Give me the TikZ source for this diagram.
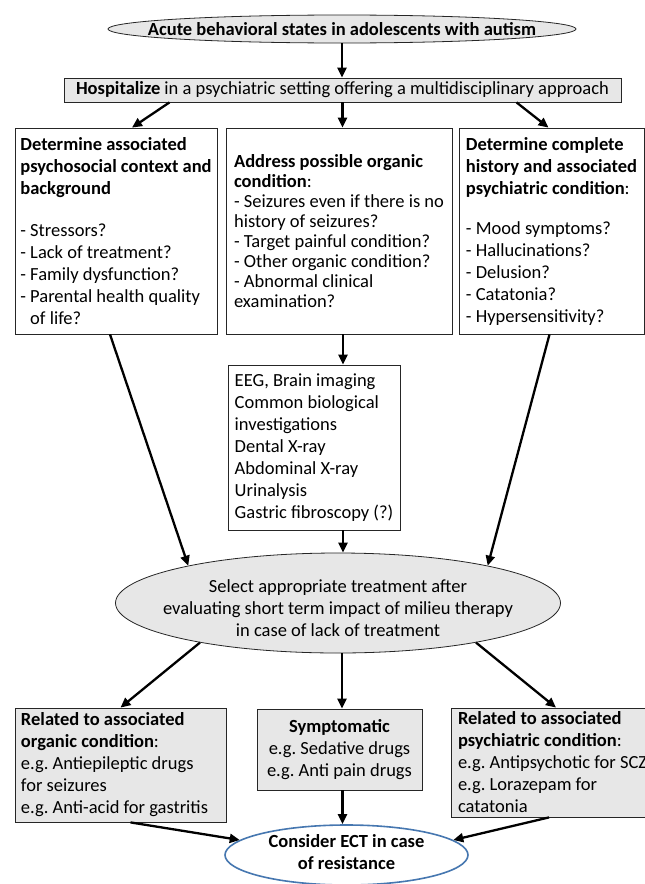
\documentclass[tikz,border=0pt]{standalone}
\usepackage{fontspec}
\setmainfont{Carlito}
\usetikzlibrary{shapes.geometric}
\usetikzlibrary{arrows.meta}
\definecolor{boxgray}{RGB}{231,231,231}
\definecolor{ectblue}{RGB}{70,119,176}
\frenchspacing

\begin{document}
\begin{tikzpicture}[x=1bp,y=-1bp,
  font=\fontsize{18.5bp}{22bp}\selectfont,
  box/.style={rectangle,draw=black!85,line width=0.8bp,align=flush left,inner sep=0pt},
  graybox/.style={box,fill=boxgray},
  oval/.style={ellipse,draw=black!85,line width=0.8bp,fill=boxgray,inner sep=0pt},
  arr/.style={-{Triangle[length=10bp,width=9bp]},line width=2.3bp}]
\useasboundingbox (0,0) rectangle (645,884);
\path (342,29) node(acute)[oval,minimum width=468bp,minimum height=28bp]{};
\path (acute) node(acutetxt){\textbf{Acute behavioral states in adolescents with autism}};
\path (342.5,90) node(hosp)[graybox,minimum width=557bp,minimum height=24bp,align=center]{\textbf{Hospitalize} in a psychiatric setting offering a multidisciplinary approach};
\path (116,231) node(psycho)[box,minimum width=202bp,minimum height=206bp]{\textbf{Determine associated}\\
\textbf{psychosocial context and}\\
\textbf{background}\\[20bp]
- Stressors?\\
- Lack of treatment?\\
- Family dysfunction?\\
- Parental health quality\\
\hphantom{- }of life?};
\path (339,231) node(organic)[box,minimum width=226bp,minimum height=206bp,font=\fontsize{18.5bp}{20bp}\selectfont]{\textbf{Address possible organic}\\
\textbf{condition}:\\
- Seizures even if there is no\\
history of seizures?\\
- Target painful condition?\\
- Other organic condition?\\
- Abnormal clinical\\
examination?};
\path (551.5,231) node(history)[box,minimum width=185bp,minimum height=206bp]{\textbf{Determine complete}\\
\textbf{history and associated}\\
\textbf{psychiatric condition}:\\[18bp]
- Mood symptoms?\\
- Hallucinations?\\
- Delusion?\\
- Catatonia?\\
- Hypersensitivity?};
\path (314,447.5) node(exams)[box,minimum width=172bp,minimum height=165bp]{EEG, Brain imaging\\
Common biological\\
investigations\\
Dental X-ray\\
Abdominal X-ray\\
Urinalysis\\
Gastric fibroscopy (?)};
\path (338,603) node(select)[oval,minimum width=445bp,minimum height=100bp]{};
\path ([yshift=-5bp]select.center) node(selecttxt)[align=center]{Select appropriate treatment after\\
evaluating short term impact of milieu therapy\\
in case of lack of treatment};
\path (120.5,765) node(relorg)[graybox,text width=199bp,inner xsep=6bp,minimum height=114bp]{\textbf{Related to associated}\\
\textbf{organic condition}:\\
e.g. Antiepileptic drugs\\
for seizures\\
e.g. Anti-acid for gastritis};
\path (339.5,749.5) node(sympt)[graybox,minimum width=165bp,minimum height=81bp,align=center]{\textbf{Symptomatic}\\
e.g. Sedative drugs\\
e.g. Anti pain drugs};
\path (568,762.5) node(relpsy)[graybox,text width=220bp,inner xsep=7bp,minimum height=109bp]{\textbf{Related to associated}\\
\textbf{psychiatric condition}:\\
e.g. Antipsychotic for SCZ\\
e.g. Lorazepam for\\
catatonia};
\path (346.5,855) node(ect)[ellipse,draw=ectblue,line width=1.6bp,fill=white,minimum width=243bp,minimum height=60bp,inner sep=0pt]{};
\path ([yshift=3bp]ect.center) node(ecttxt)[align=center]{\textbf{Consider ECT in case}\\
\textbf{of resistance}};
%arrows
\draw[arr] (acute.south) -- (acute.south |- hosp.north);
\draw[arr] ([xshift=-173bp]hosp.south) -- ([xshift=16bp]psycho.north);
\draw[arr] (hosp.south) -- (hosp.south |- organic.north);
\draw[arr] ([xshift=174bp]hosp.south) -- ([xshift=-3bp]history.north);
\draw[arr] ([xshift=4bp]organic.south) -- ([xshift=4bp]organic.south |- exams.north);
\draw[arr] ([xshift=29bp]exams.south) -- ([xshift=29bp]exams.south |- select.north);
\draw[arr] ([xshift=-6bp]psycho.south) -- (select.166);
\draw[arr] ([xshift=-2bp]history.south) -- (select.14);
\draw[arr] (select.196) -- (relorg.north);
\draw[arr] ([xshift=4bp]select.south) -- ([xshift=4bp]select.south |- sympt.north);
\draw[arr] (select.344) -- ([xshift=-12bp]relpsy.north);
\draw[arr] ([xshift=3bp]sympt.south) -- ([xshift=3bp]sympt.south |- ect.north);
\draw[arr] ([xshift=10bp]relorg.south) -- (ect.172);
\draw[arr] ([xshift=-19bp]relpsy.south) -- (ect.8);
\end{tikzpicture}
\end{document}
